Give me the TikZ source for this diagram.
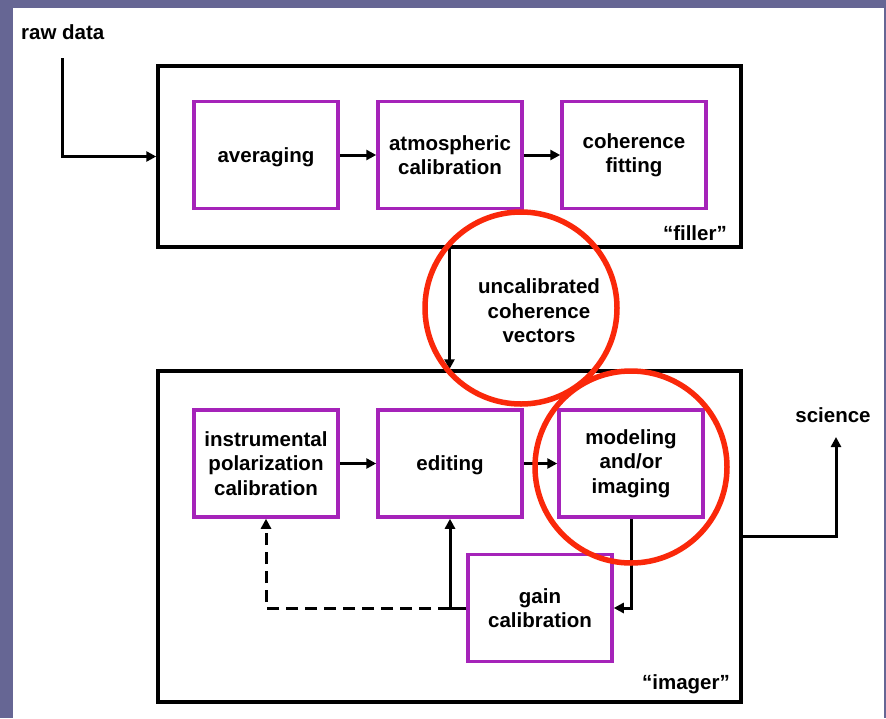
\documentclass[tikz,border=0pt]{standalone}
\usepackage{fontspec}
\setmainfont{Liberation Sans}
\usetikzlibrary{arrows.meta}
\definecolor{slide}{RGB}{102,102,148}
\definecolor{boxmag}{RGB}{165,35,185}
\definecolor{ring}{RGB}{250,40,10}
\tikzset{
  txt/.style={font=\bfseries\fontsize{20.5}{24.5}\selectfont, align=center, inner sep=0pt},
  procbox/.style={draw=boxmag, line width=3.5pt, minimum width=144pt, minimum height=107pt, inner sep=0pt, txt},
  groupbox/.style={draw=black, line width=3.5pt, inner sep=0pt},
  conn/.style={draw=black, line width=3pt, -{Triangle[length=10pt,width=10pt]}},
  dashconn/.style={conn, dash pattern=on 12pt off 7pt},
  ringc/.style={draw=ring, line width=5.5pt}
}
\begin{document}
\begin{tikzpicture}[x=1pt,y=-1pt]
\useasboundingbox (0,0) rectangle (886,718);
\fill[slide] (0,0) rectangle (886,718);
\fill[white] (13,8) rectangle (884,718);
% group boxes
\node[groupbox, minimum width=583pt, minimum height=181pt] (filler) at (449.5,156.5) {};
\node[groupbox, minimum width=583pt, minimum height=331pt] (imager) at (449.5,536.5) {};
\node[txt, anchor=east] (fillerlbl) at (727,233) {“filler”};
\node[txt, anchor=east] (imagerlbl) at (730,684) {“imager”};
% filler stage boxes
\node[procbox, text depth=0pt] (avg) at (266,155) {averaging};
\node[procbox] (atm) at (450,155) {atmospheric\\calibration};
\node[procbox] (coh) at (634,155) {coherence\\fitting};
% imager stage boxes
\node[procbox] (ipc) at (266,463.5) {instrumental\\polarization\\calibration};
\node[procbox, text depth=0pt] (edit) at (450,463.5) {editing};
\node[procbox] (model) at (631,463.5) {modeling\\and/or\\imaging};
\node[procbox] (gain) at (540,608) {gain\\calibration};
% labels
\node[txt, anchor=west] (raw) at (21,32) {raw data};
\node[txt] (ucv) at (539,311) {uncalibrated\\coherence\\vectors};
\node[txt] (sci) at (833,415) {science};
\coordinate (rawtop) at (62,58);
\coordinate (scitip) at (836,437);
% connectors
\draw[conn] (rawtop) |- (filler.west);
\draw[conn] (avg) -- (atm);
\draw[conn] (atm) -- (coh);
\draw[conn] (filler.south) -- (imager.north);
\draw[conn] (ipc) -- (edit);
\draw[conn] (edit) -- (model);
\draw[conn] (model.south) |- (gain.east);
\draw[conn] (gain.west) -| (edit.south);
\draw[dashconn] (edit.south |- gain.west) -| (ipc.south);
\draw[conn] (imager.east |- 0,536) -| (scitip);
% highlight rings
\draw[ringc] (521,308) circle[radius=96];
\draw[ringc] (631,467) circle[radius=96];
\end{tikzpicture}
\end{document}
